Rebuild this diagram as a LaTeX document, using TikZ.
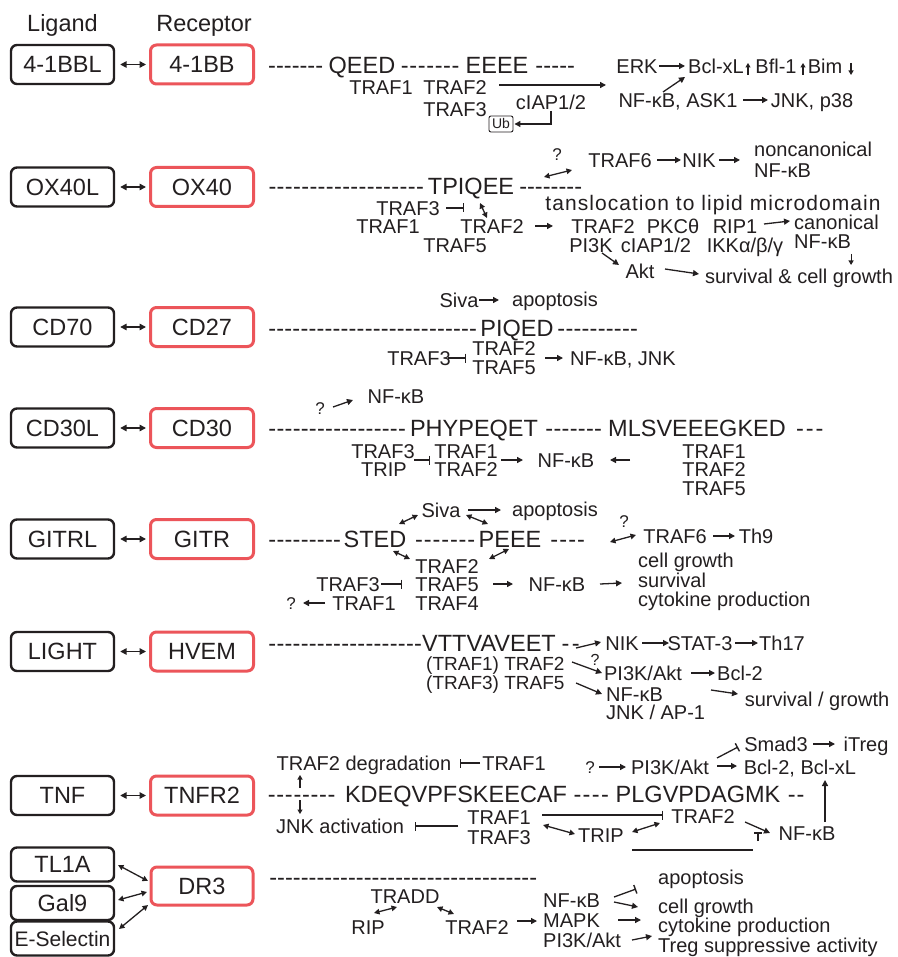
\documentclass[tikz,border=0pt]{standalone}
\usepackage{fontspec}
\setmainfont{Liberation Sans}
\usetikzlibrary{arrows.meta,calc}
\definecolor{ink}{RGB}{35,31,32}
\definecolor{recred}{RGB}{236,85,90}
% a run of hyphens filling a given width (in pt)
\newcommand\hyrun[1]{\hbox to #1pt{\xleaders\hbox{-}\hfill}}

\begin{document}
\begin{tikzpicture}[x=1pt,y=-1pt,
  every node/.style={text=ink, inner sep=0pt},
  lbl/.style={font=\fontsize{20}{19}\selectfont, text height=14.3pt, text depth=0pt},
  qm/.style={font=\fontsize{17}{17}\selectfont, text height=12pt, text depth=0pt},
  seq/.style={font=\fontsize{23.5}{26}\selectfont, text height=16.8pt, text depth=0pt},
  hdr/.style={font=\fontsize{23.5}{26}\selectfont, text height=16.8pt, text depth=0pt},
  ligbox/.style={draw=ink, line width=2.4pt, rounded corners=6pt, minimum width=103pt,
    minimum height=39pt, font=\fontsize{23.5}{26}\selectfont, text height=16.8pt, text depth=0pt},
  recbox/.style={ligbox, draw=recred, line width=3pt},
  smallbox/.style={ligbox, minimum height=34pt},
  ubbox/.style={draw=ink, line width=0.9pt, rounded corners=2pt, minimum width=24pt,
    minimum height=16pt, font=\fontsize{14}{14}\selectfont, text height=10pt, text depth=0pt},
  arr/.style={draw=ink, line width=1.3pt, -{Triangle[length=6pt,width=6pt]}},
  sarr/.style={draw=ink, line width=1.1pt, -{Triangle[length=4.5pt,width=5pt]}},
  darr/.style={draw=ink, line width=1.3pt, {Triangle[length=5.5pt,width=5.5pt]}-{Triangle[length=5.5pt,width=5.5pt]}},
  inh/.style={draw=ink, line width=1.3pt, -{Bar[width=9pt,line width=1.4pt]}},
  pair/.style={draw=ink, line width=1.5pt, {Triangle[length=6.5pt,width=6.5pt]}-{Triangle[length=6.5pt,width=6.5pt]},
    shorten <=5pt, shorten >=3pt},
]
\fill[white] (0,0) rectangle (897,957);
\useasboundingbox (0,0) rectangle (897,957);

% ---------- column headers
\node[hdr] (hLig) at (62.5,23) {Ligand};
\node[hdr] (hRec) at (204,23) {Receptor};

% ---------- ligand / receptor pairs
\node[ligbox] (L1) at (62.5,64.5) {4-1BBL};  \node[recbox] (R1) at (202,64.5) {4-1BB};
\node[ligbox] (L2) at (62.5,187)  {OX40L};   \node[recbox] (R2) at (202,187)  {OX40};
\node[ligbox] (L3) at (62.5,327)  {CD70};    \node[recbox] (R3) at (202,327)  {CD27};
\node[ligbox] (L4) at (62.5,428)  {CD30L};   \node[recbox] (R4) at (202,428)  {CD30};
\node[ligbox] (L5) at (62.5,539)  {GITRL};   \node[recbox] (R5) at (202,539)  {GITR};
\node[ligbox] (L6) at (62.5,651.5){LIGHT};   \node[recbox] (R6) at (202,651.5){HVEM};
\node[ligbox] (L7) at (62.5,795.5){TNF};     \node[recbox] (R7) at (202,795.5){TNFR2};
\foreach \i in {1,...,7} {\draw[pair] (L\i) -- (R\i);}

\node[smallbox] (TL1A) at (62.5,864.5) {TL1A};
\node[smallbox] (Gal9) at (62.5,903) {Gal9};
\node[smallbox, font=\fontsize{21}{24}\selectfont] (ESel) at (62.5,938.5) {E-Selectin};
\node[recbox, minimum width=102pt, minimum height=38pt] (DR3) at (202,886) {DR3};
\draw[darr] ($(TL1A)+(55.5,0.5)$) -- ($(DR3)+(-54,-5)$);
\draw[darr] ($(Gal9)+(55.5,-3)$) -- ($(DR3)+(-55,6)$);
\draw[darr] ($(ESel)+(56.5,-9.5)$) -- ($(DR3)+(-54,19)$);

% ---------- 4-1BB
\node[seq,anchor=west] (d1a) at (268,65) {\hyrun{55}};
\node[seq] (QEED) at (362,65) {QEED};
\node[seq,anchor=west] (d1b) at (400,65) {\hyrun{60}};
\node[seq] (EEEE) at (497,65) {EEEE};
\node[seq,anchor=west] (d1c) at (535,65) {\hyrun{40}};
\node[lbl] (TRAF1a) at (381,87) {TRAF1};
\node[lbl] (TRAF2a) at (455,87) {TRAF2};
\node[lbl] (TRAF3a) at (455,109) {TRAF3};
\node[lbl] (cIAPa) at (551,102) {cIAP1/2};
\node[ubbox] (Ub) at (501,124) {Ub};
\node[lbl] (ERK) at (637,66) {ERK};
\node[lbl] (Bclxa) at (716,66) {Bcl-xL};
\node[lbl] (Bfl) at (776,66) {Bfl-1};
\node[lbl] (Bim) at (825,66) {Bim};
\node[lbl] (NFa) at (678,100) {NF-κB, ASK1};
\node[lbl] (JNKa) at (812,100) {JNK, p38};
\draw[arr] ($(TRAF2a)+(44,-2)$) -- ($(ERK)+(-31,19)$);
\draw[arr,shorten >=1pt] ($(cIAPa)+(0,9)$) |- (Ub.east);
\draw[arr] ($(ERK)+(22,0)$) -- ($(Bclxa)+(-31,0)$);
\draw[sarr] ($(Bclxa)+(32,9)$) -- ($(Bclxa)+(32,-3)$);
\draw[sarr] ($(Bfl)+(27,9)$) -- ($(Bfl)+(27,-3)$);
\draw[sarr] ($(Bim)+(26,-3)$) -- ($(Bim)+(26,9)$);
\draw[arr] ($(NFa)+(-15,-8)$) -- ($(Bclxa)+(-31,11)$);
\draw[arr] ($(NFa)+(65,0)$) -- ($(JNKa)+(-44,0)$);

% ---------- OX40
\node[seq,anchor=west] (d2a) at (268,186) {\hyrun{156}};
\node[seq] (TPIQEE) at (471,186) {TPIQEE};
\node[seq,anchor=west] (d2b) at (519,186) {\hyrun{63}};
\node[qm] (q2) at (557,155) {?};
\node[lbl] (TRAF6a) at (620,160) {TRAF6};
\node[lbl] (NIKa) at (699,160) {NIK};
\node[lbl,anchor=west] (noncan) at (754,149) {noncanonical};
\node[lbl,anchor=west] (NFnc) at (754,170) {NF-κB};
\draw[darr] ($(TPIQEE)+(73,-9)$) -- ($(TRAF6a)+(-48,10)$);
\draw[arr] ($(TRAF6a)+(37,0)$) -- ($(NIKa)+(-18,0)$);
\draw[arr] ($(NIKa)+(20,0)$) -- ($(noncan.west)+(-14,11)$);
\node[lbl,font=\fontsize{21}{22}\selectfont\addfontfeatures{LetterSpace=5}] (transl) at (713,203) {tanslocation to lipid microdomain};
\node[lbl] (TRAF3b) at (408,208) {TRAF3};
\node[lbl] (TRAF1b) at (388,226) {TRAF1};
\node[lbl] (TRAF2b) at (492,226) {TRAF2};
\node[lbl] (TRAF5b) at (455,245) {TRAF5};
\draw[inh] ($(TRAF3b)+(38,0)$) -- ($(TRAF3b)+(56,0)$);
\draw[darr] ($(TPIQEE)+(9,17)$) -- ($(TRAF2b)+(-5,-8)$);
\node[lbl] (TRAF2c) at (603,226) {TRAF2};
\node[lbl] (PKC) at (673,226) {PKCθ};
\node[lbl] (RIP1) at (735,226) {RIP1};
\node[lbl,anchor=west] (can) at (794,222) {canonical};
\node[lbl,anchor=west] (NFcan) at (794,241) {NF-κB};
\node[lbl] (PI3Kb) at (591,245) {PI3K};
\node[lbl] (cIAPb) at (656,245) {cIAP1/2};
\node[lbl] (IKK) at (745,245) {IKKα/β/γ};
\node[lbl] (Akt) at (640,271) {Akt};
\node[lbl] (survb) at (799,276) {survival \& cell growth};
\draw[arr] ($(TRAF2b)+(43,0)$) -- ($(TRAF2c)+(-50,0)$);
\draw[arr] ($(RIP1)+(29,-2)$) -- ($(can.west)+(-4,-1)$);
\draw[sarr] ($(NFcan.east)+(0,13)$) -- ($(NFcan.east)+(0,24)$);
\draw[arr] ($(PI3Kb)+(11,8)$) -- ($(Akt)+(-21,-6)$);
\draw[arr] ($(Akt)+(25,-2)$) -- ($(survb)+(-100,-2)$);

% ---------- CD27
\node[lbl] (Siva3) at (459,300) {Siva};
\node[lbl] (apop3) at (555,299) {apoptosis};
\draw[arr] ($(Siva3)+(20,0)$) -- ($(apop3)+(-56,1)$);
\node[seq,anchor=west] (d3a) at (268,328) {\hyrun{209}};
\node[seq] (PIQED) at (517,328) {PIQED};
\node[seq,anchor=west] (d3b) at (557,328) {\hyrun{81}};
\node[lbl] (TRAF3c) at (419,358) {TRAF3};
\node[lbl] (TRAF2c3) at (504,348) {TRAF2};
\node[lbl] (TRAF5c3) at (504,367) {TRAF5};
\node[lbl,anchor=west] (NFc) at (570,358) {NF-κB, JNK};
\draw[inh] ($(TRAF3c)+(29,0)$) -- ($(TRAF3c)+(47,0)$);
\draw[arr] ($(TRAF5c3)+(41,-9)$) -- ($(NFc.west)+(-7,0)$);

% ---------- CD30
\node[qm] (q4) at (320,408) {?};
\node[lbl] (NFd) at (396,396) {NF-κB};
\draw[arr] ($(q4)+(13,-1)$) -- ($(NFd)+(-43,4)$);
\node[seq,anchor=west] (d4a) at (268,428) {\hyrun{138}};
\node[seq] (PHYP) at (474,428) {PHYPEQET};
\node[seq,anchor=west] (d4b) at (545,428) {\hyrun{57}};
\node[seq] (MLSV) at (697,428) {MLSVEEEGKED};
\node[seq,anchor=west] (d4c) at (794,428) {\hyrun{31}};
\node[lbl] (TRAF3d) at (383,451) {TRAF3};
\node[lbl] (TRIPd) at (384,469) {TRIP};
\node[lbl] (TRAF1d) at (466,451) {TRAF1};
\node[lbl] (TRAF2d) at (466,469) {TRAF2};
\node[lbl] (NFd2) at (566,460) {NF-κB};
\node[lbl] (TRAF1r) at (714,451) {TRAF1};
\node[lbl] (TRAF2r) at (714,469) {TRAF2};
\node[lbl] (TRAF5r) at (714,488) {TRAF5};
\draw[inh] ($(TRAF3d)+(31,9)$) -- ($(TRAF3d)+(47,9)$);
\draw[arr] ($(TRAF1d)+(35,9)$) -- ($(NFd2)+(-43,0)$);
\draw[arr] ($(TRAF1r)+(-84,9)$) -- ($(NFd2)+(44,0)$);

% ---------- GITR
\node[lbl] (Siva5) at (441,510) {Siva};
\node[lbl] (apop5) at (555,509) {apoptosis};
\draw[arr] ($(Siva5)+(27,0)$) -- ($(apop5)+(-54,1)$);
\node[seq,anchor=west] (d5a) at (268,539) {\hyrun{73}};
\node[seq] (STED) at (375,539) {STED};
\node[seq,anchor=west] (d5b) at (414,539) {\hyrun{62}};
\node[seq] (PEEE) at (510,539) {PEEE};
\node[seq,anchor=west] (d5c) at (549,539) {\hyrun{37}};
\draw[darr] ($(STED)+(24,-15)$) -- ($(Siva5)+(-23,5)$);
\draw[darr] ($(Siva5)+(25,5)$) -- ($(PEEE)+(-22,-15)$);
\node[qm] (q5a) at (624,521) {?};
\node[lbl] (TRAF6e) at (675,536) {TRAF6};
\node[lbl] (Th9) at (756,536) {Th9};
\draw[darr] ($(TRAF6e)+(-65,6)$) -- ($(TRAF6e)+(-39,-1)$);
\draw[arr] ($(TRAF6e)+(38,0)$) -- ($(Th9)+(-21,0)$);
\node[lbl] (TRAF2e) at (447,566) {TRAF2};
\node[lbl] (TRAF5e) at (447,584) {TRAF5};
\node[lbl] (TRAF4e) at (447,603) {TRAF4};
\draw[darr] ($(STED)+(18,12)$) -- ($(TRAF2e)+(-37,-7)$);
\draw[darr] ($(TRAF2e)+(42,-7)$) -- ($(PEEE)+(-1,10)$);
\node[lbl] (TRAF3e) at (348,584) {TRAF3};
\draw[inh] ($(TRAF3e)+(33,0)$) -- ($(TRAF3e)+(54,0)$);
\node[qm] (q5b) at (291,603) {?};
\node[lbl] (TRAF1e) at (364,603) {TRAF1};
\draw[arr] ($(TRAF1e)+(-39,0)$) -- ($(q5b)+(12,0)$);
\node[lbl] (NFe) at (557,584) {NF-κB};
\draw[arr] ($(TRAF5e)+(46,0)$) -- ($(NFe)+(-44,0)$);
\node[lbl,anchor=west] (cg5) at (638,560) {cell growth};
\node[lbl,anchor=west] (surv5) at (638,580) {survival};
\node[lbl,anchor=west] (cyto5) at (638,599) {cytokine production};
\draw[arr] ($(NFe)+(43,0)$) -- ($(surv5.west)+(-16,3)$);

% ---------- HVEM
\node[seq,anchor=west] (d6a) at (268,643) {\hyrun{154}};
\node[seq] (VTTV) at (489,643) {VTTVAVEET};
\node[seq,anchor=west] (d6b) at (559,643) {\hyrun{23}};
\node[lbl,anchor=west,font=\fontsize{19}{19}\selectfont] (TRAF2f) at (426,663) {(TRAF1) TRAF2};
\node[lbl,anchor=west,font=\fontsize{19}{19}\selectfont] (TRAF5f) at (426,682) {(TRAF3) TRAF5};
\node[lbl] (NIKf) at (622,643) {NIK};
\node[lbl] (STAT3) at (700,643) {STAT-3};
\node[lbl] (Th17) at (782,643) {Th17};
\draw[arr] ($(TRAF2f.west)+(150,-15)$) -- ($(NIKf)+(-21,-1)$);
\draw[arr] ($(NIKf)+(20,0)$) -- ($(STAT3)+(-31,0)$);
\draw[arr] ($(STAT3)+(35,0)$) -- ($(Th17)+(-24,0)$);
\node[qm,font=\fontsize{16}{16}\selectfont] (q6) at (595,659) {?};
\node[lbl] (PI3Kf) at (643,673) {PI3K/Akt};
\node[lbl] (Bcl2f) at (740,673) {Bcl-2};
\draw[arr] ($(TRAF2f.west)+(146,-1)$) -- ($(PI3Kf)+(-41,0)$);
\draw[arr] ($(PI3Kf)+(48,0)$) -- ($(Bcl2f)+(-25,0)$);
\node[lbl,anchor=west] (NFf) at (606,694) {NF-κB};
\node[lbl,anchor=west] (JNKf) at (606,712) {JNK / AP-1};
\node[lbl] (survf) at (817,699) {survival / growth};
\draw[arr] ($(TRAF5f.west)+(150,1)$) -- ($(NFf.west)+(-4,0)$);
\draw[arr] ($(NFf.west)+(105,-4)$) -- ($(survf)+(-79,-5)$);

% ---------- TNFR2
\node[lbl] (TRAF2deg) at (364,763) {TRAF2 degradation};
\node[lbl] (TRAF1g) at (514,763) {TRAF1};
\draw[inh] ($(TRAF1g)+(-34,0)$) -- ($(TRAF2deg)+(96,0)$);
\node[seq,anchor=west] (d7a) at (267,794) {\hyrun{69}};
\node[seq] (KDEQ) at (456,794) {KDEQVPFSKEECAF};
\node[seq,anchor=west] (d7b) at (572,794) {\hyrun{38}};
\node[seq] (PLGV) at (698,794) {PLGVPDAGMK};
\node[seq,anchor=west] (d7c) at (787,794) {\hyrun{18}};
\node[lbl] (JNKact) at (340,826) {JNK activation};
\draw[sarr] ($(d7a.west)+(33,-6)$) -- ($(TRAF2deg)+(-64,12)$);
\draw[sarr] ($(d7a.west)+(33,6)$) -- ($(JNKact)+(-40,-12)$);
\node[qm] (q7) at (590,767) {?};
\node[lbl] (PI3Kg) at (670,767) {PI3K/Akt};
\draw[arr] ($(q7)+(9,0)$) -- ($(PI3Kg)+(-44,0)$);
\node[lbl] (Smad3) at (776,744) {Smad3};
\node[lbl] (iTreg) at (866,744) {iTreg};
\node[lbl] (Bcl7) at (800,767) {Bcl-2, Bcl-xL};
\draw[inh] ($(PI3Kg)+(47,-9)$) -- ($(Smad3)+(-38,3)$);
\draw[arr] ($(PI3Kg)+(47,-1)$) -- ($(Bcl7)+(-63,-1)$);
\draw[arr] ($(Smad3)+(37,0)$) -- ($(iTreg)+(-31,0)$);
\node[lbl] (TRAF1h) at (499,817) {TRAF1};
\node[lbl] (TRAF3h) at (499,837) {TRAF3};
\draw[inh] ($(TRAF1h)+(-41,9)$) -- ($(JNKact)+(75,0)$);
\node[lbl] (TRAF2g) at (703,816) {TRAF2};
\node[lbl] (TRIP) at (601,835) {TRIP};
\node[lbl] (NF7) at (807,833) {NF-κB};
\draw[inh] ($(TRAF1h)+(43,-2)$) -- ($(TRAF2g)+(-40,-1)$);
\draw[darr] ($(TRAF3h)+(44,-12)$) -- ($(TRIP)+(-26,-1)$);
\draw[darr] ($(TRIP)+(31,-3)$) -- ($(TRAF2g)+(-43,7)$);
\draw[arr] ($(TRAF2g)+(42,6)$) -- ($(NF7)+(-37,0)$);
\draw[arr] ($(NF7)+(18,-11)$) -- ($(Bcl7)+(25,13)$);
\draw[draw=ink, line width=1.3pt, -{Bar[width=8pt,line width=1.6pt]}] ($(NF7)+(-49,8)$) -- ($(NF7)+(-49,-1)$);
\draw[draw=ink, line width=2pt] ($(TRIP)+(31,15)$) -- ($(NF7)+(-54,17)$);

% ---------- DR3
\node[seq,anchor=west] (d8) at (269,877) {\hyrun{268}};
\node[lbl] (TRADD) at (405,896) {TRADD};
\node[lbl] (RIP) at (368,927) {RIP};
\node[lbl] (TRAF2h) at (477,927) {TRAF2};
\draw[darr] ($(RIP)+(6,-14)$) -- ($(TRADD)+(-8,11)$);
\draw[darr] ($(TRADD)+(32,11)$) -- ($(TRAF2h)+(-23,-13)$);
\node[lbl,anchor=west] (NF8) at (543,900) {NF-κB};
\node[lbl,anchor=west] (MAPK) at (543,920) {MAPK};
\node[lbl,anchor=west] (PI3K8) at (543,940) {PI3K/Akt};
\draw[arr] ($(TRAF2h)+(40,-6)$) -- ($(MAPK.west)+(-6,1)$);
\node[lbl,anchor=west] (apop8) at (658,877) {apoptosis};
\node[lbl,anchor=west] (cg8) at (658,906) {cell growth};
\node[lbl,anchor=west] (cyto8) at (658,925) {cytokine production};
\node[lbl,anchor=west] (treg8) at (658,945) {Treg suppressive activity};
\draw[inh] ($(NF8.west)+(71,-3)$) -- ($(apop8.west)+(-22,12)$);
\draw[arr] ($(NF8.west)+(71,2)$) -- ($(cg8.west)+(-20,1)$);
\draw[arr] ($(MAPK.west)+(75,0)$) -- ($(cyto8.west)+(-17,-5)$);
\draw[arr] ($(PI3K8.west)+(89,0)$) -- ($(treg8.west)+(-6,-9)$);
\end{tikzpicture}
\end{document}
